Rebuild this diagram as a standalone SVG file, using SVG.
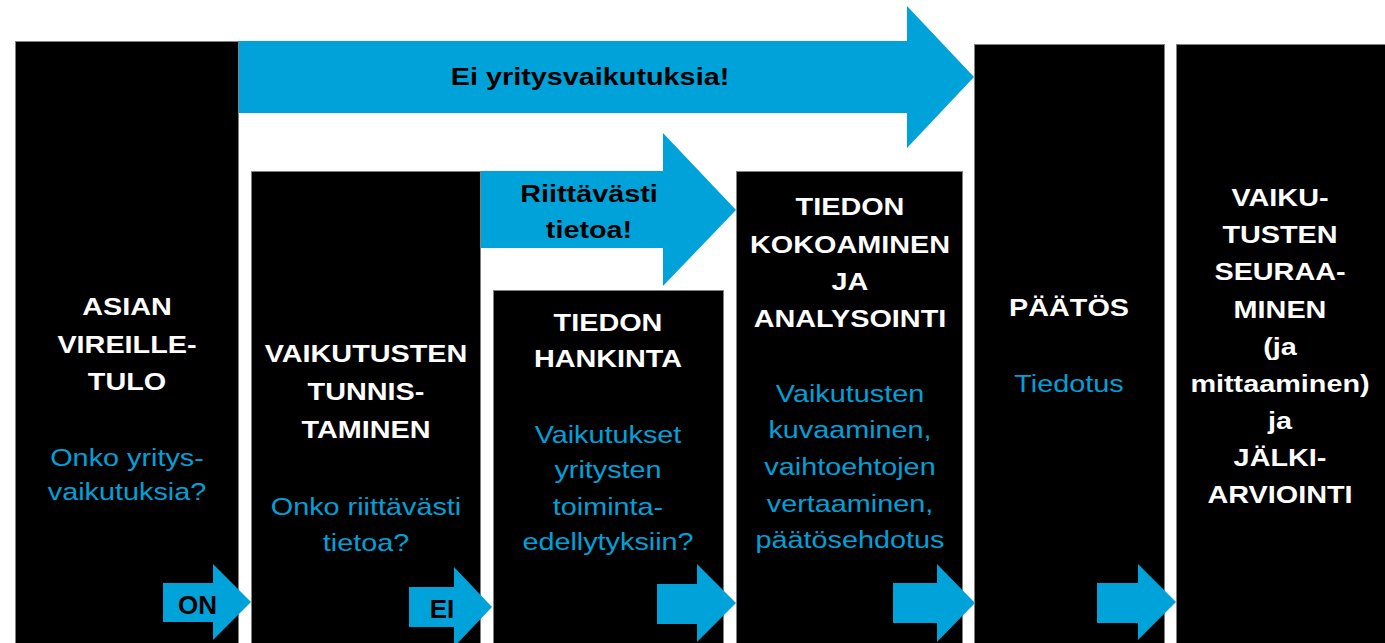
<svg xmlns="http://www.w3.org/2000/svg" width="1385" height="643" viewBox="0 0 1385 643">
<style>
.box{fill:#000;stroke:#808080;stroke-width:1}
.arr{fill:#00a3d9}
.t{font-family:"Liberation Sans",Arial,sans-serif;font-size:24px;text-anchor:middle}
.w{fill:#fff;font-weight:bold}
.b{fill:#00a0d8}
.k{fill:#000;font-weight:bold}
</style>
<rect width="1385" height="643" fill="#fff"/>
<g id="n1">
<rect class="box" x="15.5" y="41.5" width="223" height="605"/>
<g transform="translate(127 0) scale(1.2 1)">
<text class="t w" x="0" y="315">ASIAN</text>
<text class="t w" x="0" y="353">VIREILLE-</text>
<text class="t w" x="0" y="390">TULO</text>
<text class="t b" x="0" y="466">Onko yritys-</text>
<text class="t b" x="0" y="500">vaikutuksia?</text>
</g>
</g>
<g id="n2">
<rect class="box" x="251.5" y="171.5" width="229" height="475"/>
<g transform="translate(366 0) scale(1.2 1)">
<text class="t w" x="0" y="362">VAIKUTUSTEN</text>
<text class="t w" x="0" y="400">TUNNIS-</text>
<text class="t w" x="0" y="438">TAMINEN</text>
<text class="t b" x="0" y="515">Onko riittävästi</text>
<text class="t b" x="0" y="551">tietoa?</text>
</g>
</g>
<g id="n3">
<rect class="box" x="493.5" y="290.5" width="230" height="356"/>
<g transform="translate(608 0) scale(1.2 1)">
<text class="t w" x="0" y="331">TIEDON</text>
<text class="t w" x="0" y="367">HANKINTA</text>
<text class="t b" x="0" y="443">Vaikutukset</text>
<text class="t b" x="0" y="478">yritysten</text>
<text class="t b" x="0" y="515">toiminta-</text>
<text class="t b" x="0" y="550">edellytyksiin?</text>
</g>
</g>
<g id="n4">
<rect class="box" x="736.5" y="171.5" width="226" height="475"/>
<g transform="translate(850 0) scale(1.2 1)">
<text class="t w" x="0" y="215">TIEDON</text>
<text class="t w" x="0" y="253">KOKOAMINEN</text>
<text class="t w" x="0" y="290">JA</text>
<text class="t w" x="0" y="327">ANALYSOINTI</text>
<text class="t b" x="0" y="402">Vaikutusten</text>
<text class="t b" x="0" y="438">kuvaaminen,</text>
<text class="t b" x="0" y="475">vaihtoehtojen</text>
<text class="t b" x="0" y="512">vertaaminen,</text>
<text class="t b" x="0" y="548">päätösehdotus</text>
</g>
</g>
<g id="n5">
<rect class="box" x="974.5" y="44.5" width="190" height="602"/>
<g transform="translate(1069 0) scale(1.2 1)">
<text class="t w" x="0" y="316">PÄÄTÖS</text>
<text class="t b" x="0" y="392">Tiedotus</text>
</g>
</g>
<g id="n6">
<rect class="box" x="1176.5" y="44.5" width="215" height="602"/>
<g transform="translate(1280 0) scale(1.2 1)">
<text class="t w" x="0" y="206">VAIKU-</text>
<text class="t w" x="0" y="243">TUSTEN</text>
<text class="t w" x="0" y="280">SEURAA-</text>
<text class="t w" x="0" y="318">MINEN</text>
<text class="t w" x="0" y="355">(ja</text>
<text class="t w" x="0" y="392">mittaaminen)</text>
<text class="t w" x="0" y="429">ja</text>
<text class="t w" x="0" y="466">JÄLKI-</text>
<text class="t w" x="0" y="503">ARVIOINTI</text>
</g>
</g>
<g id="connectors">
<polygon class="arr" points="239,41 907,41 907,6 974,77 907,148 907,113 239,113"/>
<text class="t k" transform="translate(590 0) scale(1.2 1)" x="0" y="85">Ei yritysvaikutuksia!</text>
<polygon class="arr" points="481,171 663,171 663,133 736,210 663,286 663,248 481,248"/>
<g transform="translate(589 0) scale(1.2 1)">
<text class="t k" x="0" y="202">Riittävästi</text>
<text class="t k" x="0" y="238">tietoa!</text>
</g>
<polygon class="arr" points="163,583 213,583 213,564 251,602 213,640 213,622 163,622"/>
<text class="t k" x="197.5" y="614" style="font-size:26px">ON</text>
<polygon class="arr" points="409,587 454,587 454,567 492,607 454,647 454,627 409,627"/>
<text class="t k" x="442" y="618" style="font-size:26px">EI</text>
<polygon class="arr" points="657,584 697,584 697,564 736,603 697,642 697,624 657,624"/>
<polygon class="arr" points="893,583 937,583 937,564 975,603 937,642 937,623 893,623"/>
<polygon class="arr" points="1097,583 1138,583 1138,564 1176,602 1138,640 1138,623 1097,623"/>
</g>
</svg>
